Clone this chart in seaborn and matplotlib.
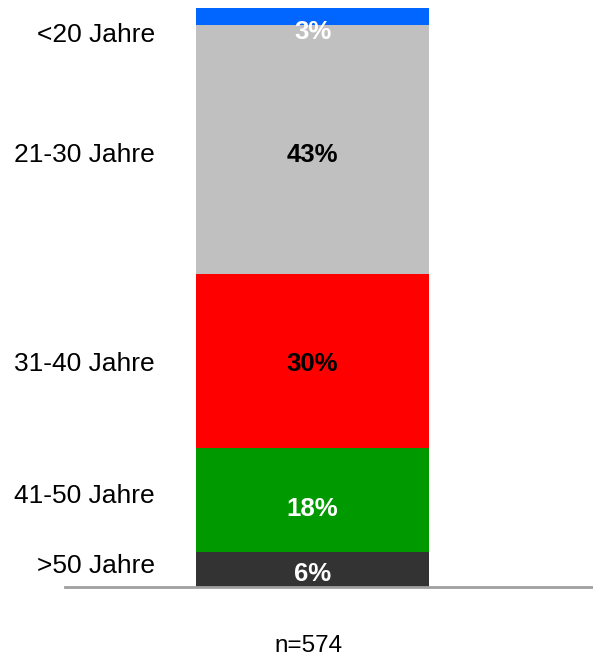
import matplotlib
matplotlib.use("Agg")
import matplotlib.pyplot as plt
import seaborn as sns
import numpy as np

# Daten (von unten nach oben)
kategorien = [">50 Jahre", "41-50 Jahre", "31-40 Jahre", "21-30 Jahre", "<20 Jahre"]
anteile = [6, 18, 30, 43, 3]
farben = ["#333333", "#009900", "#FF0000", "#C0C0C0", "#0066FF"]
textfarben = ["white", "white", "black", "black", "white"]
# kleine Verschiebungen der Beschriftungen (in Prozentpunkten)
label_versatz = [0.65, 0.75, -0.45, -0.85, -3.15]
wert_versatz = [-0.75, -1.55, -0.45, -0.85, -2.65]
n_text = "n=574"

sns.set_theme(style="white")
plt.rcParams["font.family"] = ["Liberation Sans", "DejaVu Sans"]
plt.rcParams["text.color"] = "black"

fig = plt.figure(figsize=(5.93, 6.58), dpi=100)
ax = fig.add_axes([65 / 593, (658 - 587) / 658, 527 / 593, (587 - 8) / 658])

# gestapelter Balken: kumulierte Werte, groesster zuerst zeichnen
kumuliert = np.cumsum(anteile)
for i in reversed(range(len(anteile))):
    sns.barplot(x=[0], y=[kumuliert[i]], color=farben[i], width=0.8,
                saturation=1, linewidth=0, ax=ax, native_scale=True)

ax.set_xlim(-0.85, 0.96)
ax.set_ylim(0, 100)
ax.set_xticks([])
ax.set_yticks([])
ax.set_xlabel("")
ax.set_ylabel("")
for s in ["top", "left", "right"]:
    ax.spines[s].set_visible(False)
ax.spines["bottom"].set_color("#A0A0A0")
ax.spines["bottom"].set_linewidth(2)

unten = kumuliert - np.array(anteile)
for i, (kat, wert) in enumerate(zip(kategorien, anteile)):
    mitte = unten[i] + wert / 2
    ax.text(0.171, mitte + label_versatz[i], kat, transform=ax.get_yaxis_transform(),
            ha="right", va="center", fontsize=19, color="black")
    ax.text(0, mitte + wert_versatz[i], f"{wert}%", ha="center", va="center",
            fontsize=18.5, fontweight="bold", color=textfarben[i])

fig.text(308 / 593, 1 - 646 / 658, n_text, ha="center", va="center",
         fontsize=17.5, color="black")

fig.savefig("out.png", dpi=100)
